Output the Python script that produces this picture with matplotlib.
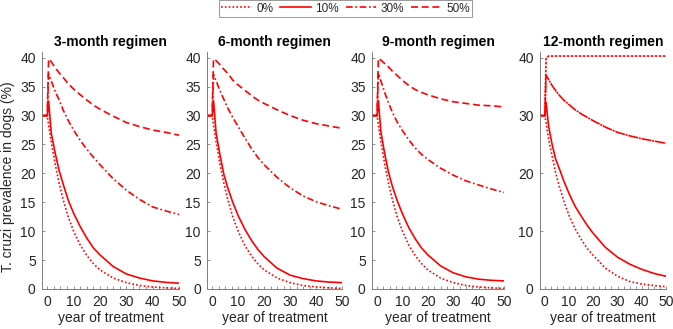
import matplotlib
matplotlib.use("Agg")
import matplotlib.pyplot as plt
from matplotlib.ticker import MultipleLocator

plt.rcParams['font.family'] = ['Liberation Sans', 'DejaVu Sans']

# ---- data ----
years = [-2, 0, 0.5, 1.5, 3, 4.5, 6, 8, 10, 12.5, 15, 17.5, 20, 25, 30, 35, 40, 45, 50]

m3_0  = [30, 30, 28.4, 25.5, 21.6, 18.3, 15.5, 12.4, 10.0, 7.6, 5.8, 4.4, 3.3, 1.9, 1.1, 0.6, 0.35, 0.2, 0.1]
m3_10 = [30, 30, 32.5, 27.0, 23.5, 20.5, 18.2, 15.3, 13.1, 10.8, 8.8, 7.1, 5.9, 3.9, 2.6, 1.9, 1.4, 1.15, 1.0]
m3_30 = [30, 30, 37.2, 36.0, 34.2, 32.7, 31.0, 29.1, 27.5, 25.7, 24.2, 22.8, 21.5, 19.1, 17.1, 15.5, 14.2, 13.5, 12.9]
m3_50 = [30, 30, 39.8, 39.3, 38.3, 37.4, 36.6, 35.5, 34.6, 33.6, 32.7, 31.8, 31.1, 29.9, 28.8, 28.1, 27.5, 27.1, 26.6]

m6_0  = [30, 30, 28.4, 25.5, 21.6, 18.3, 15.5, 12.4, 10.0, 7.6, 5.8, 4.4, 3.3, 1.9, 1.1, 0.6, 0.35, 0.2, 0.1]
m6_10 = [30, 30, 32.6, 27.0, 23.2, 19.8, 17.5, 14.9, 12.7, 10.4, 8.5, 6.9, 5.6, 3.6, 2.4, 1.8, 1.4, 1.2, 1.1]
m6_30 = [30, 30, 37.1, 36.0, 34.3, 32.8, 31.3, 29.6, 28.1, 26.2, 24.4, 22.8, 21.5, 19.3, 17.5, 16.1, 15.1, 14.4, 13.8]
m6_50 = [30, 30, 39.8, 39.5, 38.8, 38.0, 37.3, 36.1, 35.3, 34.4, 33.5, 32.7, 32.1, 31.0, 30.0, 29.2, 28.6, 28.2, 27.8]

m9_0  = [30, 30, 28.4, 25.5, 21.6, 18.3, 15.5, 12.4, 10.0, 7.6, 5.8, 4.4, 3.3, 1.9, 1.1, 0.6, 0.35, 0.2, 0.1]
m9_10 = [30, 30, 32.6, 27.2, 23.4, 20.2, 17.8, 15.2, 13.0, 10.6, 8.7, 7.1, 5.9, 4.0, 2.8, 2.1, 1.7, 1.5, 1.4]
m9_30 = [30, 30, 37.4, 36.0, 34.0, 32.2, 30.6, 28.8, 27.4, 25.8, 24.4, 23.3, 22.4, 20.9, 19.7, 18.7, 18.0, 17.3, 16.7]
m9_50 = [30, 30, 39.9, 39.6, 39.0, 38.4, 37.7, 36.9, 36.1, 35.2, 34.5, 34.0, 33.6, 32.9, 32.4, 32.1, 31.8, 31.7, 31.5]

m12_0  = [30, 30, 28.8, 26.0, 23.0, 20.0, 17.7, 15.0, 12.7, 10.4, 8.6, 7.0, 5.8, 3.6, 2.2, 1.3, 0.85, 0.6, 0.4]
m12_10 = [30, 30, 32.3, 28.3, 25.0, 22.4, 20.8, 18.5, 16.5, 14.3, 12.6, 11.0, 9.6, 7.2, 5.5, 4.3, 3.4, 2.7, 2.2]
m12_30 = [30, 30, 37.0, 36.3, 35.2, 34.3, 33.5, 32.6, 31.9, 31.0, 30.3, 29.7, 29.1, 28.0, 27.1, 26.5, 26.0, 25.6, 25.2]
m12_50 = [30, 30, 40.0, 40.3, 40.3, 40.3, 40.3, 40.3, 40.3, 40.3, 40.3, 40.3, 40.3, 40.3, 40.3, 40.3, 40.3, 40.3, 40.3]

titles = ["3-month regimen", "6-month regimen", "9-month regimen", "12-month regimen"]
series_labels = ["0%", "10%", "30%", "50%"]
panels = [
    [m3_0, m3_10, m3_30, m3_50],
    [m6_0, m6_10, m6_30, m6_50],
    [m9_0, m9_10, m9_30, m9_50],
    [m12_0, m12_10, m12_30, m12_50],
]

# ---- layout ----
W, H = 673, 329
fig = plt.figure(figsize=(W / 100, H / 100), dpi=100)
px_axes = [(42, 179), (207, 342), (372, 504), (540, 666)]
top_px, bot_px = 52, 289

red = (1, 0, 0)
lw = 1.2
styles_default = [(0, (1, 1.3)), '-', (0, (4, 1.6, 1, 1.6)), (0, (4.2, 2.2))]
styles_p4 = [(0, (1, 1.3)), '-', (0, (6, 0.5, 1.2, 0.5)), (0, (1.5, 0.9))]

axcol = '#7f7f7f'
txtcol = '#262626'
FS = 10
handles = None
for i, (xl, xr) in enumerate(px_axes):
    ax = fig.add_axes([xl / W, (H - bot_px) / H, (xr - xl) / W, (bot_px - top_px) / H])
    sty = styles_p4 if i == 3 else styles_default
    hs = []
    for s, (vals, ls) in enumerate(zip(panels[i], sty)):
        h, = ax.plot(years, vals, color=red, lw=lw, linestyle=ls, label=series_labels[s])
        hs.append(h)
    if handles is None:
        handles = hs
    ax.set_xlim(-2, 50)
    ax.set_ylim(0, 41)
    ax.set_xticks([0, 10, 20, 30, 40, 50])
    ax.xaxis.set_minor_locator(MultipleLocator(2.5))
    if i == 3:
        ax.set_yticks([0, 10, 20, 30, 40])
    else:
        ax.set_yticks([0, 5, 10, 15, 20, 25, 30, 35, 40])
    for sp in ['top', 'right']:
        ax.spines[sp].set_visible(False)
    for sp in ['left', 'bottom']:
        ax.spines[sp].set_color(axcol)
        ax.spines[sp].set_linewidth(0.7)
    ax.tick_params(which='both', direction='in', color=axcol, width=0.6, labelcolor=txtcol, labelsize=FS)
    ax.tick_params(which='major', length=2.5)
    ax.tick_params(which='minor', length=2.0)
    ax.tick_params(axis='x', pad=4.5)
    ax.tick_params(axis='y', pad=4.5)
    ax.set_title(titles[i], fontsize=FS, fontweight='bold', color='black', pad=4)
    ax.set_xlabel("year of treatment", fontsize=FS, color=txtcol, labelpad=1.5)

fig.text(8.5 / W, (H - 176.5) / H, "T. cruzi prevalence in dogs (%)", rotation=90,
         ha='center', va='center', fontsize=FS, color=txtcol)

leg = fig.legend(handles, series_labels, loc='center', bbox_to_anchor=(345.5 / W, (H - 8.5) / H),
                 ncol=4, fontsize=8.5, frameon=True, fancybox=False, edgecolor='#7f7f7f',
                 handlelength=2.6, handletextpad=0.35, columnspacing=0.6, borderpad=0.2,
                 borderaxespad=0)
leg.get_frame().set_linewidth(0.7)
for t in leg.get_texts():
    t.set_color(txtcol)

fig.savefig("out.png", dpi=100)
